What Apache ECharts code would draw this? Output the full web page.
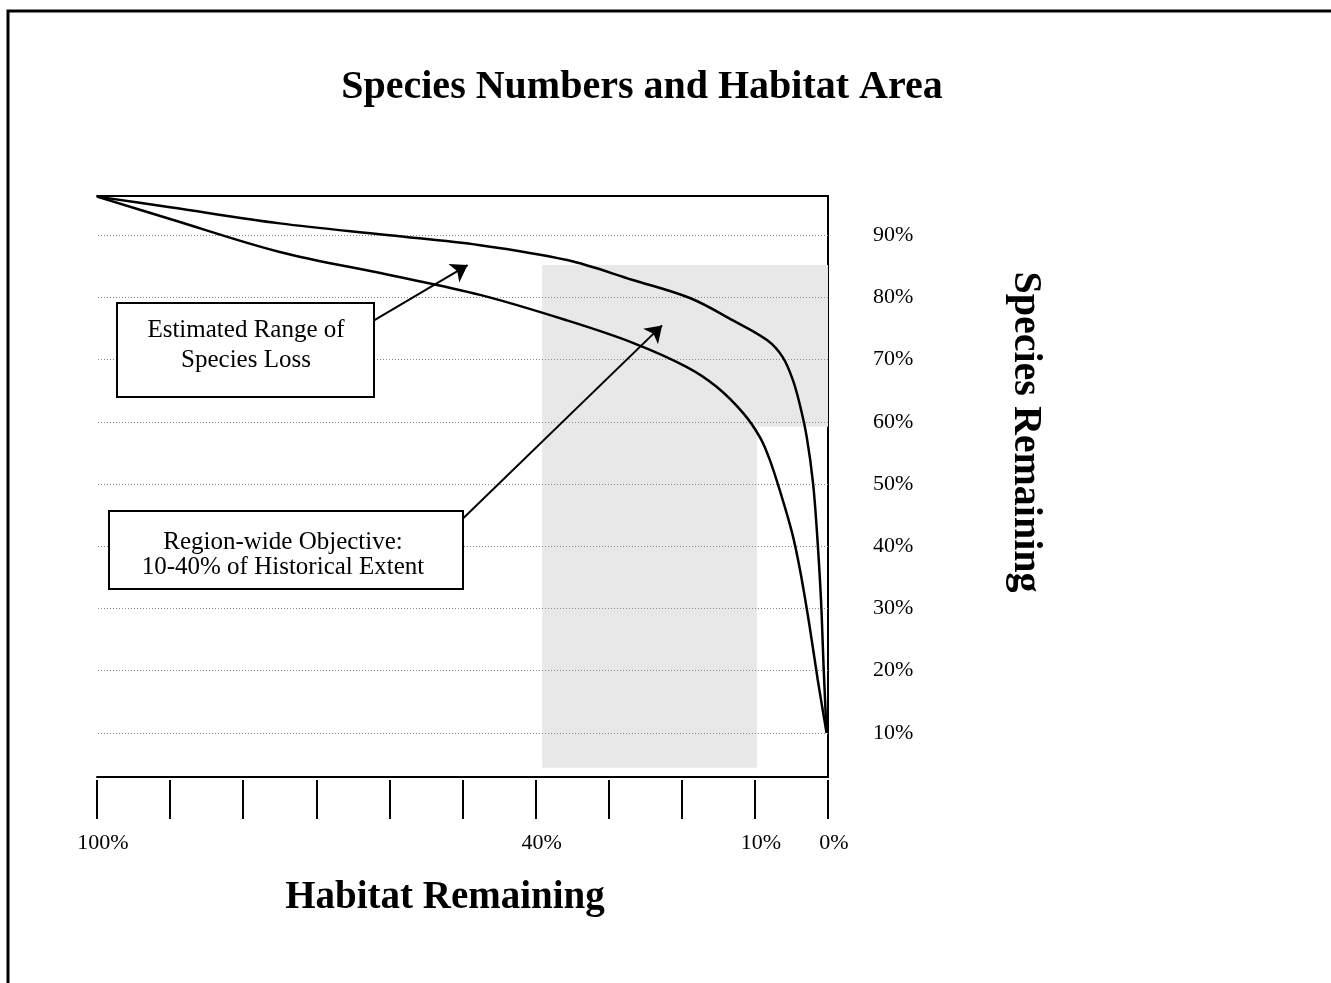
<!DOCTYPE html>
<html><head><meta charset="utf-8">
<script src="https://cdn.jsdelivr.net/npm/echarts@6/dist/echarts.min.js"></script>
<style>html,body{margin:0;padding:0;background:#fff}#c{width:1331px;height:983px}</style>
</head><body><div id="c"></div>
<script>
// ---- data ----
const habitatTickLabels = {100:'100%', 40:'40%', 10:'10%', 0:'0%'};
const speciesTicks = [10, 20, 30, 40, 50, 60, 70, 80, 90];

// upper bound of estimated species remaining (habitat %, species %)
const upperHabitat = [100, 90, 75, 60, 47.6, 35.7, 26.7, 18.9, 13.0, 8.3, 6.2, 4.8, 3.8, 2.9, 2.05, 1.5, 0.96, 0.6, 0.2];
const upperSpecies = [96.2, 94.5, 91.9, 90.0, 88.4, 86.0, 82.8, 79.9, 76.3, 73.1, 70.4, 66.7, 62.5, 57.5, 50.2, 42.1, 31.4, 20.6, 10];
// lower bound
const lowerHabitat = [100, 90, 75, 60, 47.6, 35.7, 26.7, 19.3, 15.2, 11.6, 9.3, 8.0, 6.6, 4.9, 3.8, 2.5, 1.4, 0.2];
const lowerSpecies = [96.2, 92.6, 87.3, 83.6, 80.4, 76.3, 72.7, 68.8, 65.6, 61.4, 57.5, 54.0, 49.0, 42.1, 36.0, 27.0, 18.5, 10];

// shaded zones
const objectiveHabitat = [39.1, 9.7];      // region-wide objective band (habitat %)
const lossRangeSpecies = [59.2, 85.2];     // estimated range of species (species %)
const shadeFloorSpecies = 4.4;

// annotation arrows: [from, to] in (habitat %, species %)
const arrowLoss = [[62.1, 76.3], [49.3, 85.2]];
const arrowObjective = [[49.9, 44.5], [22.7, 75.5]];

const titleText = 'Species Numbers and Habitat Area';
const xName = 'Habitat Remaining';
const yName = 'Species Remaining';
const boxLossText = 'Estimated Range of\nSpecies Loss';
const boxObjectiveText = 'Region-wide Objective:\n10-40% of Historical Extent';

// ---- chart ----
const FONT = '"Liberation Serif", "Times New Roman", serif';
const zip = (a, b) => a.map((v, i) => [v, b[i]]);
const chart = echarts.init(document.getElementById('c'), null, {renderer: 'canvas'});

const xBase = {type: 'value', min: 0, max: 100, interval: 10, inverse: true, splitLine: {show: false}};

const option = {
  animation: false,
  backgroundColor: '#fff',
  grid: {left: 97, right: 503, top: 196, bottom: 206, containLabel: false},
  xAxis: [
    Object.assign({}, xBase, {
      position: 'bottom',
      axisLine: {show: true, lineStyle: {color: '#000', width: 2}},
      axisTick: {show: false}, axisLabel: {show: false}
    }),
    Object.assign({}, xBase, {
      position: 'bottom', offset: 3,
      axisLine: {show: false},
      axisTick: {show: true, length: 39, lineStyle: {color: '#000', width: 2}},
      axisLabel: {
        show: true, margin: 52, color: '#000', fontFamily: FONT, fontSize: 22,
        padding: [0, 0, 0, 12],
        formatter: v => habitatTickLabels[v] || ''
      }
    }),
    Object.assign({}, xBase, {
      position: 'top',
      axisLine: {show: true, lineStyle: {color: '#000', width: 2}},
      axisTick: {show: false}, axisLabel: {show: false}
    })
  ],
  yAxis: {
    type: 'value', position: 'right', min: 2.9, max: 96.3,
    axisLine: {show: true, lineStyle: {color: '#000', width: 2}},
    axisTick: {show: false},
    splitLine: {show: false},
    axisLabel: {
      show: true, customValues: speciesTicks, margin: 45,
      color: '#000', fontFamily: FONT, fontSize: 22,
      formatter: v => v + '%'
    }
  },
  series: [
    {
      type: 'line', data: [], z: 1, silent: true,
      markArea: {
        silent: true,
        itemStyle: {color: '#e8e8e8'},
        data: [
          [{coord: [objectiveHabitat[0], lossRangeSpecies[0]]}, {coord: [0, lossRangeSpecies[1]]}],
          [{coord: [objectiveHabitat[0], shadeFloorSpecies]}, {coord: [objectiveHabitat[1], lossRangeSpecies[0]]}]
        ]
      }
    },
    {
      type: 'line', data: [], z: 2, silent: true,
      markLine: {
        silent: true, symbol: ['none', 'none'], label: {show: false},
        lineStyle: {color: '#8a8a8a', width: 1, type: [1, 2]},
        data: speciesTicks.map(v => ({yAxis: v}))
      }
    },
    {
      type: 'line', name: 'upper', data: zip(upperHabitat, upperSpecies), z: 5,
      showSymbol: false, smooth: 0.35,
      lineStyle: {color: '#000', width: 2.5}
    },
    {
      type: 'line', name: 'lower', data: zip(lowerHabitat, lowerSpecies), z: 5,
      showSymbol: false, smooth: 0.35,
      lineStyle: {color: '#000', width: 2.5}
    },
    {
      type: 'line', data: [], z: 6, silent: true,
      markLine: {
        silent: true, symbol: ['none', 'arrow'], symbolSize: 16, label: {show: false},
        lineStyle: {color: '#000', width: 2, type: 'solid'},
        data: [
          [{coord: arrowLoss[0]}, {coord: arrowLoss[1]}],
          [{coord: arrowObjective[0]}, {coord: arrowObjective[1]}]
        ]
      }
    }
  ],
  graphic: [
    {type: 'polyline', shape: {points: [[8, 983], [8, 11], [1331, 11]]}, style: {stroke: '#000', lineWidth: 3, fill: null}, z: 100},
    {type: 'text', x: 642, y: 88, style: {text: titleText, font: 'bold 40px ' + FONT, fill: '#000', align: 'center', verticalAlign: 'middle'}, z: 100},
    {type: 'text', x: 445, y: 898, style: {text: xName, font: 'bold 39px ' + FONT, fill: '#000', align: 'center', verticalAlign: 'middle'}, z: 100},
    {type: 'text', x: 1025, y: 432, rotation: -Math.PI / 2, style: {text: yName, font: 'bold 40px ' + FONT, fill: '#000', align: 'center', verticalAlign: 'middle'}, z: 100},
    {type: 'rect', shape: {x: 117, y: 303, width: 257, height: 94}, style: {fill: '#fff', stroke: '#000', lineWidth: 2}, z: 100},
    {type: 'text', x: 246, y: 345, style: {text: boxLossText, font: '25px ' + FONT, lineHeight: 30, fill: '#000', align: 'center', verticalAlign: 'middle'}, z: 101},
    {type: 'rect', shape: {x: 109, y: 511, width: 354, height: 78}, style: {fill: '#fff', stroke: '#000', lineWidth: 2}, z: 100},
    {type: 'text', x: 283, y: 555, style: {text: boxObjectiveText, font: '25px ' + FONT, lineHeight: 25, fill: '#000', align: 'center', verticalAlign: 'middle'}, z: 101}
  ]
};
chart.setOption(option);
</script>
</body></html>
